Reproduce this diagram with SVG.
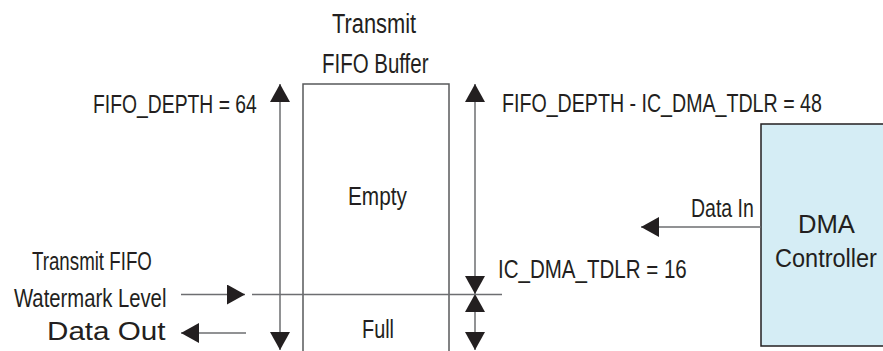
<svg xmlns="http://www.w3.org/2000/svg" width="883" height="351" viewBox="0 0 883 351">
<style>
  text { font-family: "Liberation Sans", Arial, sans-serif; font-size: 26px; fill: #231f20; }
  .title { font-size: 28px; }
  .ln { stroke: #6d6e71; stroke-width: 1.5; fill: none; }
  .box { fill: #ffffff; stroke: #58595b; stroke-width: 1.5; }
  .dma { fill: #d5edf5; stroke: #231f20; stroke-width: 1.5; }
</style>
<defs>
  <marker id="ah" markerUnits="userSpaceOnUse" markerWidth="18" markerHeight="20" refX="18" refY="10" orient="auto-start-reverse" viewBox="0 0 18 20">
    <path d="M0,0 L18,10 L0,20 Z" fill="#231f20"/>
  </marker>
</defs>
<rect width="883" height="351" fill="#ffffff"/>

<g id="fifo-buffer">
  <rect class="box" x="303" y="84" width="146" height="290"/>
  <text class="title" transform="translate(332,33) scale(0.78,1)">Transmit</text>
  <text class="title" transform="translate(322,73) scale(0.731,1)">FIFO Buffer</text>
  <text transform="translate(348,205) scale(0.80,1)">Empty</text>
  <text transform="translate(362,338) scale(0.764,1)">Full</text>
</g>

<g id="dma-controller">
  <rect class="dma" x="761" y="124" width="140" height="222"/>
  <text transform="translate(798,233) scale(0.986,1)">DMA</text>
  <text transform="translate(775,267) scale(0.905,1)">Controller</text>
</g>

<g id="labels">
  <text transform="translate(93,113) scale(0.744,1)">FIFO_DEPTH = 64</text>
  <text transform="translate(502,112) scale(0.755,1)">FIFO_DEPTH - IC_DMA_TDLR = 48</text>
  <text transform="translate(498,278) scale(0.79,1)">IC_DMA_TDLR = 16</text>
  <text transform="translate(691,217) scale(0.75,1)">Data In</text>
  <text transform="translate(32,270) scale(0.72,1)">Transmit FIFO</text>
  <text transform="translate(14,307) scale(0.78,1)">Watermark Level</text>
  <text transform="translate(47,340) scale(1.14,1)">Data Out</text>
</g>

<g id="connectors">
  <line class="ln" x1="280" y1="84" x2="280" y2="350" marker-start="url(#ah)" marker-end="url(#ah)"/>
  <line class="ln" x1="475" y1="84" x2="475" y2="294" marker-start="url(#ah)" marker-end="url(#ah)"/>
  <line class="ln" x1="475" y1="294" x2="475" y2="350" marker-start="url(#ah)" marker-end="url(#ah)"/>
  <line class="ln" x1="252" y1="294.5" x2="502" y2="294.5"/>
  <line class="ln" x1="181" y1="294.5" x2="245" y2="294.5" marker-end="url(#ah)"/>
  <line class="ln" x1="246" y1="333" x2="181" y2="333" marker-end="url(#ah)"/>
  <line class="ln" x1="761" y1="227" x2="641" y2="227" marker-end="url(#ah)"/>
</g>
</svg>
